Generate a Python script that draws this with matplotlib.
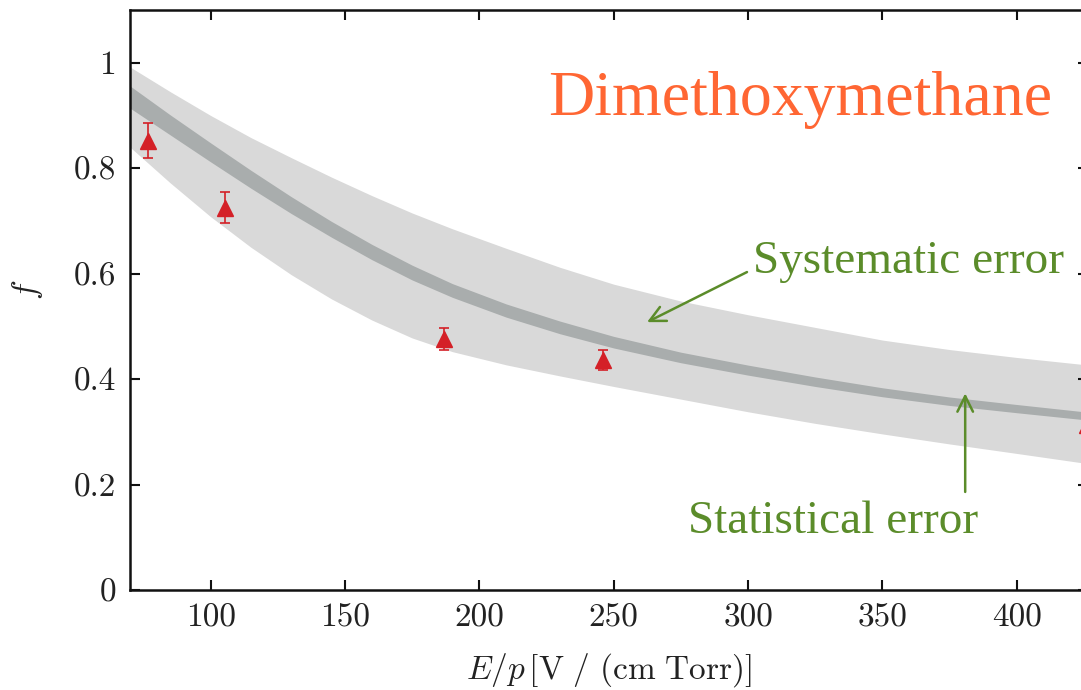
import numpy as np
import matplotlib
matplotlib.use("Agg")
import matplotlib.pyplot as plt

plt.rcParams["mathtext.fontset"] = "cm"
plt.rcParams["font.family"] = "serif"
plt.rcParams["font.serif"] = ["cmr10", "DejaVu Serif"]
plt.rcParams["axes.formatter.use_mathtext"] = True

# reduced field E/p grid for the model curve
e_over_p = [70, 85, 100, 115, 130, 145, 160, 175, 190, 210, 230, 250,
            275, 300, 325, 350, 375, 400, 426]
f_model = [0.935, 0.882, 0.830, 0.779, 0.730, 0.684, 0.641, 0.602, 0.568,
           0.530, 0.498, 0.470, 0.441, 0.417, 0.395, 0.375, 0.358, 0.344,
           0.330]
stat_err = [0.021, 0.019, 0.018, 0.017, 0.016, 0.015, 0.0145, 0.014, 0.013,
            0.0125, 0.012, 0.011, 0.010, 0.0095, 0.009, 0.0085, 0.008,
            0.0078, 0.0075]
sys_low = [0.840, 0.772, 0.708, 0.650, 0.598, 0.552, 0.512, 0.478, 0.452,
           0.427, 0.406, 0.386, 0.362, 0.338, 0.316, 0.296, 0.277, 0.259,
           0.240]
sys_high = [0.992, 0.945, 0.900, 0.858, 0.820, 0.783, 0.748, 0.715, 0.685,
            0.648, 0.612, 0.580, 0.548, 0.522, 0.498, 0.474, 0.456, 0.441,
            0.427]

# measured points
meas_x = [76.7, 105.2, 186.7, 245.9, 426.0]
meas_f = [0.852, 0.725, 0.476, 0.436, 0.312]
meas_err = [0.033, 0.029, 0.021, 0.019, 0.020]

xticks = [100, 150, 200, 250, 300, 350, 400]
yticks = [0, 0.2, 0.4, 0.6, 0.8, 1.0]
ytick_labels = ["0", "0.2", "0.4", "0.6", "0.8", "1"]

fig = plt.figure(figsize=(10.81, 6.90), dpi=100)
ax = fig.add_axes([130 / 1081, 100 / 690, 958 / 1081, 580 / 690])

x = np.array(e_over_p)
fm = np.array(f_model)
se = np.array(stat_err)

ax.fill_between(x, sys_low, sys_high, color="#d9d9d9", lw=0, zorder=1)
ax.fill_between(x, fm - se, fm + se, color="#a9adad", lw=0, zorder=2)

ax.errorbar(meas_x, meas_f, yerr=meas_err, fmt="^", color="#d42027",
            ms=11, elinewidth=1.2, capsize=3.6, capthick=1.2, zorder=4)

ax.set_xlim(70, 426.5)
ax.set_ylim(0, 1.1)
ax.set_xticks(xticks)
ax.set_xticklabels([str(v) for v in xticks])
ax.set_yticks(yticks)
ax.set_yticklabels(ytick_labels)
ax.tick_params(direction="in", length=7, width=1.5, top=True, right=True,
               labelsize=24, pad=10, colors="#111111", labelcolor="#222222")
for sp in ax.spines.values():
    sp.set_linewidth(1.8)
    sp.set_color("#111111")

ax.set_xlabel(r"$E/p\,[\mathrm{V\ /\ (cm\ Torr)}]$", fontsize=24,
              color="#222222")
ax.xaxis.set_label_coords(0.5, -0.105)
ax.set_ylabel(r"$f$", fontsize=24, color="#222222")
ax.yaxis.set_label_coords(-0.089, 0.517)

serif = ["Liberation Serif", "DejaVu Serif"]
green = "#5b8c2a"

ax.text(319.3, 0.901, "Dimethoxymethane", family=serif, fontsize=46,
        color="#ff6633", ha="center", va="baseline", zorder=5)

ax.text(301.8, 0.601, "Systematic error", family=serif, fontsize=34,
        color=green, ha="left", va="baseline", zorder=5)
ax.annotate("", xy=(262.4, 0.508), xytext=(299.6, 0.603),
            arrowprops=dict(arrowstyle="->", color=green, lw=1.8,
                            mutation_scale=28, shrinkA=0, shrinkB=0),
            zorder=5)

ax.text(331.6, 0.108, "Statistical error", family=serif, fontsize=34,
        color=green, ha="center", va="baseline", zorder=5)
ax.annotate("", xy=(380.8, 0.373), xytext=(380.8, 0.186),
            arrowprops=dict(arrowstyle="->", color=green, lw=1.8,
                            mutation_scale=28, shrinkA=0, shrinkB=0),
            zorder=5)

fig.savefig("out.png", dpi=100)
